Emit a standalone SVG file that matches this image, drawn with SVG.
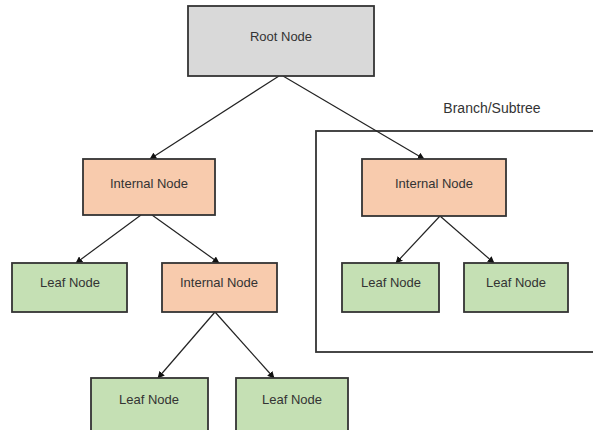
<svg xmlns="http://www.w3.org/2000/svg" width="593" height="430" viewBox="0 0 593 430">
  <style>
    .box { stroke: #333; stroke-width: 1.8; }
    .root { fill: #d9d9d9; }
    .internal { fill: #f8cbad; }
    .leaf { fill: #c5e0b4; }
    .label { font-family: "Liberation Sans", Arial, sans-serif; font-size: 13px; fill: #333; text-anchor: middle; dominant-baseline: central; }
    .edge { stroke: #222; stroke-width: 1.2; fill: none; marker-end: url(#arrow); }
  </style>
  <defs>
    <marker id="arrow" viewBox="0 0 10 10" refX="9" refY="5" markerWidth="7" markerHeight="7" markerUnits="userSpaceOnUse" orient="auto">
      <path d="M0,0 L10,5 L0,10 z" fill="#111"/>
    </marker>
  </defs>
  <rect width="593" height="430" fill="#fff"/>

  <!-- subtree frame -->
  <g id="subtree">
    <rect x="316" y="131" width="290" height="221" fill="none" stroke="#333" stroke-width="1.8"/>
    <text class="label" x="492" y="108" style="font-size:14px">Branch/Subtree</text>
  </g>

  <g id="edges">
    <line class="edge" x1="279" y1="76" x2="150" y2="159"/>
    <line class="edge" x1="283" y1="76" x2="424" y2="159"/>
    <line class="edge" x1="141" y1="215" x2="76" y2="263"/>
    <line class="edge" x1="152" y1="215" x2="219" y2="263"/>
    <line class="edge" x1="215" y1="312" x2="158" y2="378"/>
    <line class="edge" x1="215" y1="312" x2="274" y2="378"/>
    <line class="edge" x1="440" y1="216" x2="396" y2="263"/>
    <line class="edge" x1="440" y1="216" x2="494" y2="263"/>
  </g>

  <g id="root">
    <rect class="box root" x="188" y="6" width="186" height="70"/>
    <text class="label" x="281" y="36">Root Node</text>
  </g>

  <g id="internal-left">
    <rect class="box internal" x="83" y="159" width="132" height="56"/>
    <text class="label" x="149" y="183">Internal Node</text>
  </g>

  <g id="internal-right">
    <rect class="box internal" x="362" y="159" width="144" height="57"/>
    <text class="label" x="434" y="183">Internal Node</text>
  </g>

  <g id="leaf-1">
    <rect class="box leaf" x="12" y="263" width="115" height="49"/>
    <text class="label" x="70" y="282">Leaf Node</text>
  </g>

  <g id="internal-mid">
    <rect class="box internal" x="162" y="263" width="115" height="49"/>
    <text class="label" x="219" y="282">Internal Node</text>
  </g>

  <g id="leaf-2">
    <rect class="box leaf" x="342" y="263" width="97" height="49"/>
    <text class="label" x="391" y="282">Leaf Node</text>
  </g>

  <g id="leaf-3">
    <rect class="box leaf" x="464" y="263" width="104" height="49"/>
    <text class="label" x="516" y="282">Leaf Node</text>
  </g>

  <g id="leaf-4">
    <rect class="box leaf" x="91" y="378" width="117" height="60"/>
    <text class="label" x="149" y="399">Leaf Node</text>
  </g>

  <g id="leaf-5">
    <rect class="box leaf" x="236" y="378" width="112" height="60"/>
    <text class="label" x="292" y="399">Leaf Node</text>
  </g>
</svg>
